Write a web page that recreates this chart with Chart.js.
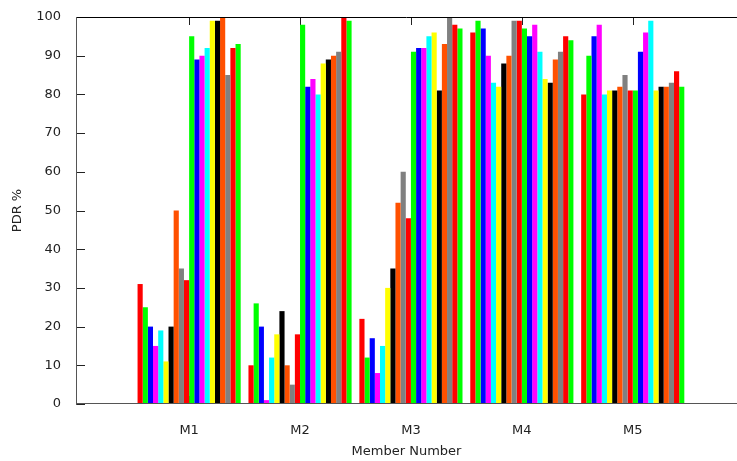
<!DOCTYPE html>
<html>
<head>
<meta charset="utf-8">
<script src="https://cdn.jsdelivr.net/npm/chart.js@4.4.1/dist/chart.umd.min.js"></script>
<style>
  html, body { margin: 0; padding: 0; background: #fff; overflow: hidden; }
  #wrap { width: 737px; height: 461px; }
</style>
</head>
<body>
<div id="wrap"><canvas id="myChart" width="737" height="461"></canvas></div>
<script>
    // member groups on the x axis
    const members = ['M1', 'M2', 'M3', 'M4', 'M5'];
    const yTicks = [0, 10, 20, 30, 40, 50, 60, 70, 80, 90, 100];

    // 20 series, one bar per member in each
    const s1  = [31, 10, 22, 96, 80];
    const s2  = [25, 26, 12, 99, 90];
    const s3  = [20, 20, 17, 97, 95];
    const s4  = [15, 1, 8, 90, 98];
    const s5  = [19, 12, 15, 83, 80];
    const s6  = [11, 18, 30, 82, 81];
    const s7  = [20, 24, 35, 88, 81];
    const s8  = [50, 10, 52, 90, 82];
    const s9  = [35, 5, 60, 99, 85];
    const s10 = [32, 18, 48, 99, 81];
    const s11 = [95, 98, 91, 97, 81];
    const s12 = [89, 82, 92, 95, 91];
    const s13 = [90, 84, 92, 98, 96];
    const s14 = [92, 80, 95, 91, 99];
    const s15 = [99, 88, 96, 84, 81];
    const s16 = [99, 89, 81, 83, 82];
    const s17 = [100, 90, 93, 89, 82];
    const s18 = [85, 91, 100, 91, 83];
    const s19 = [92, 100, 98, 95, 86];
    const s20 = [93, 99, 97, 94, 82];

    const series = [s1, s2, s3, s4, s5, s6, s7, s8, s9, s10,
                    s11, s12, s13, s14, s15, s16, s17, s18, s19, s20];
    const palette = ['#ff0000', '#00ff00', '#0000ff', '#ff00ff', '#00ffff',
                     '#ffff00', '#000000', '#ff5000', '#808080'];

    const datasets = series.map((vals, i) => ({
        label: 'S' + (i + 1),
        data: vals.map((v, j) => ({ x: j, y: v })),
        backgroundColor: palette[i % palette.length],
        borderWidth: 0,
        categoryPercentage: 0.93,
        barPercentage: 1.0
    }));

    // frame and inward ticks, gnuplot style
    const framePlugin = {
        id: 'frame',
        beforeDatasetsDraw(chart) {
            const ctx = chart.ctx;
            const a = chart.chartArea;
            const xs = chart.scales.x, ys = chart.scales.y;
            ctx.save();
            ctx.strokeStyle = '#222';
            ctx.lineWidth = 1;
            ctx.beginPath();
            yTicks.forEach(t => {
                const y = Math.round(ys.getPixelForValue(t)) + 0.5;
                ctx.moveTo(a.left, y);
                ctx.lineTo(a.left + 9, y);
            });
            members.forEach((m, i) => {
                const x = Math.round(xs.getPixelForValue(i)) + 0.5;
                ctx.moveTo(x, a.top);
                ctx.lineTo(x, a.top + 8);
                ctx.moveTo(x, a.bottom);
                ctx.lineTo(x, a.bottom - 8);
            });
            ctx.stroke();
            ctx.restore();
        },
        afterDatasetsDraw(chart) {
            const ctx = chart.ctx;
            const a = chart.chartArea;
            ctx.save();
            ctx.lineWidth = 1;
            ctx.strokeStyle = '#000';
            ctx.beginPath();
            ctx.moveTo(a.left, Math.round(a.top) + 0.5);
            ctx.lineTo(a.right, Math.round(a.top) + 0.5);
            ctx.stroke();
            ctx.strokeStyle = '#555';
            ctx.beginPath();
            ctx.moveTo(Math.round(a.left) + 0.5, a.top);
            ctx.lineTo(Math.round(a.left) + 0.5, a.bottom + 1);
            ctx.moveTo(a.left, Math.round(a.bottom) - 0.5);
            ctx.lineTo(a.right, Math.round(a.bottom) - 0.5);
            ctx.stroke();
            ctx.restore();
        }
    };

    const font = { family: 'DejaVu Sans', size: 13 };

    new Chart(document.getElementById('myChart'), {
        type: 'bar',
        data: { datasets: datasets },
        plugins: [framePlugin],
        options: {
            responsive: false,
            animation: false,
            layout: { padding: { top: 17, right: 0, left: 0, bottom: 0 } },
            plugins: { legend: { display: false }, tooltip: { enabled: false } },
            scales: {
                x: {
                    type: 'linear',
                    offset: false,
                    min: -1.02,
                    max: 4.94,
                    grid: { display: false },
                    border: { display: false },
                    afterBuildTicks: s => { s.ticks = members.map((m, i) => ({ value: i })); },
                    afterFit: s => { s.height = 57; },
                    ticks: {
                        color: '#222',
                        font: font,
                        padding: 11,
                        maxRotation: 0,
                        callback: v => members[v]
                    },
                    title: {
                        display: true,
                        text: 'Member Number',
                        color: '#222',
                        font: font,
                        padding: { top: 0, bottom: 2 }
                    }
                },
                y: {
                    min: 0,
                    max: 100,
                    grid: { display: false },
                    border: { display: false },
                    afterFit: s => { s.width = 76; },
                    ticks: {
                        stepSize: 10,
                        color: '#222',
                        font: font,
                        padding: 7
                    },
                    title: {
                        display: true,
                        text: 'PDR %',
                        color: '#222',
                        font: font,
                        padding: { top: 10, bottom: 0 }
                    }
                }
            }
        }
    });
</script>
</body>
</html>
